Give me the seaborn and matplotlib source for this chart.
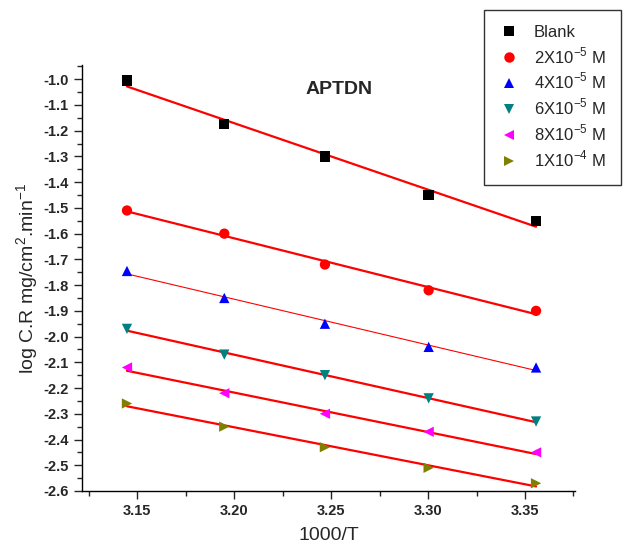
import numpy as np
import pandas as pd
import matplotlib
matplotlib.use("Agg")
import matplotlib.pyplot as plt
import seaborn as sns
from matplotlib.ticker import MultipleLocator

sns.set_style("ticks")
plt.rcParams['font.family'] = ['Liberation Sans', 'DejaVu Sans']
plt.rcParams['mathtext.fontset'] = 'custom'
plt.rcParams['mathtext.rm'] = 'Liberation Sans'

x_vals = [3.1447, 3.1949, 3.2468, 3.3003, 3.3557]
blank = [-1.005, -1.175, -1.30, -1.45, -1.55]
c2e5 = [-1.51, -1.60, -1.72, -1.82, -1.90]
c4e5 = [-1.745, -1.85, -1.95, -2.04, -2.12]
c6e5 = [-1.97, -2.07, -2.15, -2.24, -2.33]
c8e5 = [-2.12, -2.22, -2.30, -2.37, -2.45]
c1e4 = [-2.26, -2.35, -2.43, -2.51, -2.57]

labels = ["Blank", "2X10$^{-5}$ M", "4X10$^{-5}$ M", "6X10$^{-5}$ M", "8X10$^{-5}$ M", "1X10$^{-4}$ M"]
series = [blank, c2e5, c4e5, c6e5, c8e5, c1e4]
colors = ["black", "#ff0000", "#0000ff", "#008080", "#ff00ff", "#808000"]
markers = ["s", "o", "^", "v", "<", ">"]
line_widths = [1.6, 1.6, 0.8, 1.6, 1.6, 1.6]

fig = plt.figure(figsize=(6.23, 5.47), dpi=100)
ax = fig.add_axes([0.1316, 0.1024, 0.7914, 0.7786])

handles = []
for lab, ys, c, m, lw in zip(labels, series, colors, markers, line_widths):
    df = pd.DataFrame({"x": x_vals, "y": ys})
    sns.regplot(data=df, x="x", y="y", ax=ax, ci=None, scatter=False,
                line_kws=dict(color="red", lw=lw, zorder=2))
    sns.scatterplot(data=df, x="x", y="y", ax=ax, marker=m, color=c, s=55,
                    edgecolor="none", zorder=3, label=lab, legend=False)
    handles.append(plt.Line2D([], [], marker=m, color=c, linestyle="none",
                              markersize=7.5, markeredgewidth=0, label=lab))

ax.set_xlim(3.1215, 3.3758)
ax.set_ylim(-2.6, -0.945)
ax.xaxis.set_major_locator(MultipleLocator(0.05))
ax.xaxis.set_minor_locator(MultipleLocator(0.025))
ax.yaxis.set_minor_locator(MultipleLocator(0.05))
ax.set_yticks(np.round(np.arange(-2.6, -0.95, 0.1), 1))
ax.xaxis.set_major_formatter(matplotlib.ticker.FormatStrFormatter('%.2f'))
ax.yaxis.set_major_formatter(matplotlib.ticker.FormatStrFormatter('%.1f'))
ax.tick_params(which='major', direction='out', length=6, width=1, labelsize=10.5)
ax.tick_params(which='minor', direction='out', length=3.5, width=1)
for t in ax.get_xticklabels() + ax.get_yticklabels():
    t.set_fontweight('bold')
for s in ["top", "right"]:
    ax.spines[s].set_visible(False)
for s in ["left", "bottom"]:
    ax.spines[s].set_linewidth(1)
    ax.spines[s].set_color("black")

ax.set_xlabel("1000/T", fontsize=14, labelpad=6)
ax.set_ylabel("log C.R mg/cm$^2$.min$^{-1}$", fontsize=14, labelpad=2)
ax.text(3.254, -1.04, "APTDN", fontsize=14, fontweight="bold", ha="center", va="center")

leg = fig.legend(handles=handles, loc="upper left", bbox_to_anchor=(484/623, 1 - 10/547),
                 borderaxespad=0, frameon=True, fancybox=False, edgecolor="black",
                 fontsize=12, handletextpad=0.9, labelspacing=0.32, borderpad=0.9,
                 handlelength=1.2)
leg.get_frame().set_linewidth(1)

fig.savefig("out.png", dpi=100)
